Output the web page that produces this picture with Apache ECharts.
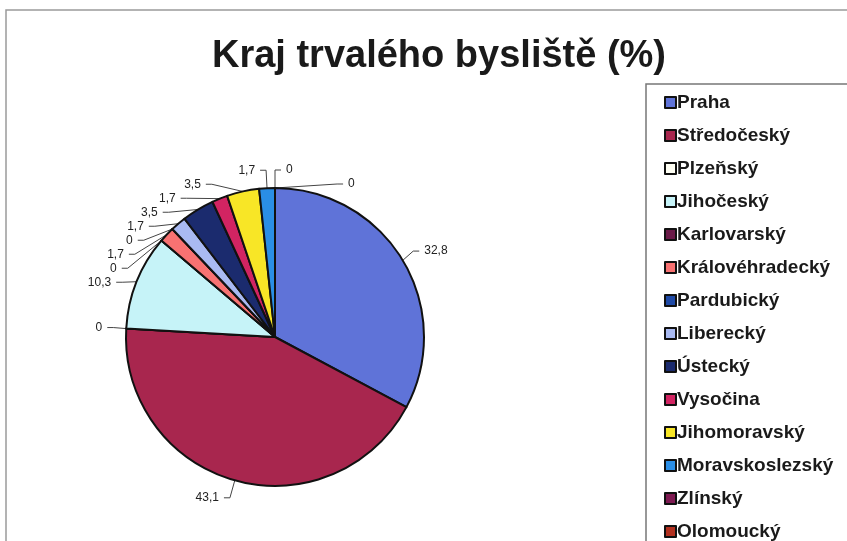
<!DOCTYPE html>
<html>
<head>
<meta charset="utf-8">
<script src="https://cdn.jsdelivr.net/npm/echarts@6/dist/echarts.min.js"></script>
<style>
  html, body { margin: 0; padding: 0; background: #fff; }
  #chart { width: 847px; height: 541px; }
</style>
</head>
<body>
<div id="chart"></div>
<script>
  // kraje v poradi od 12 hodin po smeru hodinovych rucicek
  var regions = ['Praha', 'Středočeský', 'Plzeňský', 'Jihočeský', 'Karlovarský', 'Královéhradecký',
    'Pardubický', 'Liberecký', 'Ústecký', 'Vysočina', 'Jihomoravský', 'Moravskoslezský', 'Zlínský', 'Olomoucký'];
  var shares = [32.8, 43.1, 0, 10.3, 0, 1.7, 0, 1.7, 3.5, 1.7, 3.5, 1.7, 0, 0];
  var colors = ['#5f73d8', '#a8264e', '#fffff4', '#c6f3f8', '#6a1a48', '#f87272', '#1f4aa6',
    '#a9baf2', '#1b2b6e', '#d22462', '#f8e626', '#2a8ee6', '#7e1a52', '#b2301f'];

  var chart = echarts.init(document.getElementById('chart'));
  chart.setOption({
    animation: false,
    color: colors,
    title: {
      text: 'Kraj trvalého bysliště (%)',
      left: 434,
      top: 33,
      textAlign: 'center',
      textStyle: { fontFamily: 'Liberation Sans', fontSize: 38, fontWeight: 'bold', color: '#1a1a1a' }
    },
    graphic: [{
      type: 'rect', shape: { x: 6, y: 10, width: 900, height: 600 },
      style: { fill: 'none', stroke: '#9a9a9a', lineWidth: 1.5 }, silent: true
    }, {
      type: 'rect', shape: { x: 646, y: 84, width: 300, height: 500 },
      style: { fill: 'none', stroke: '#777', lineWidth: 1.5 }, silent: true
    }],
    legend: {
      orient: 'vertical',
      left: 659,
      top: 88,
      height: 480,
      itemGap: 14,
      itemWidth: 11,
      itemHeight: 11,
      icon: 'rect',
      itemStyle: { borderColor: '#111', borderWidth: 2 },
      textStyle: { fontFamily: 'Liberation Sans', fontSize: 19, fontWeight: 'bold', color: '#1a1a1a', padding: [0, 0, 0, -4] },
      data: regions
    },
    series: [{
      type: 'pie',
      center: [275, 337],
      radius: 149,
      startAngle: 90,
      clockwise: true,
      avoidLabelOverlap: true,
      itemStyle: { borderColor: '#111', borderWidth: 2 },
      label: {
        show: true,
        position: 'outside',
        fontFamily: 'Liberation Sans',
        fontSize: 12,
        color: '#222',
        formatter: function (p) { return String(p.value).replace('.', ','); }
      },
      labelLine: { show: true, length: 18, length2: 6, lineStyle: { color: '#444', width: 1 } },
      data: regions.map(function (r, i) { return { name: r, value: shares[i] }; })
    }]
  });
</script>
</body>
</html>
